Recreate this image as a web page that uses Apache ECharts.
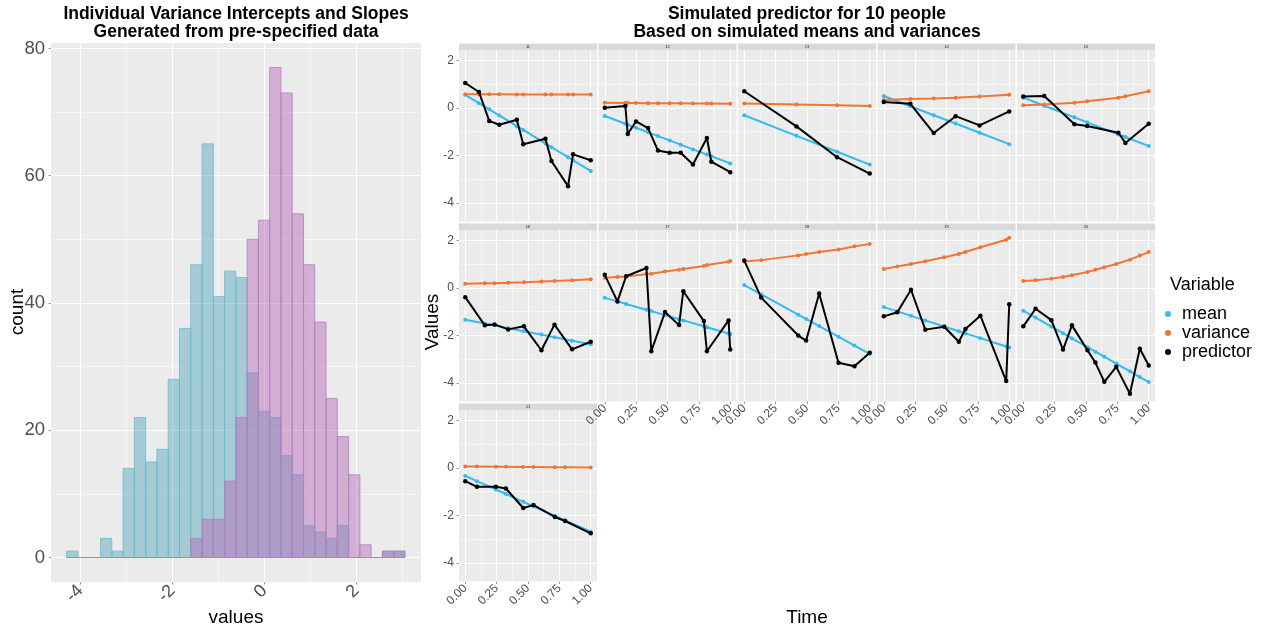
<!DOCTYPE html>
<html>
<head>
<meta charset="utf-8">
<script src="https://cdn.jsdelivr.net/npm/echarts@6/dist/echarts.min.js"></script>
<style>
  html, body { margin: 0; padding: 0; background: #ffffff; }
  #main { width: 1261px; height: 630px; }
</style>
</head>
<body>
<div id="main"></div>
<script>
  const FONT = '"Liberation Sans", Arial, Helvetica, sans-serif';

  // histogram (30 bins shared by both distributions)
  const binStart = -4.298;
  const binWidth = 0.2453;
  const interceptCounts = [1, 0, 0, 3, 1, 14, 22, 15, 17, 28, 36, 46, 65, 41, 45, 44, 29, 23, 22, 16, 13, 5, 4, 3, 5, 0, 0, 0, 1, 1];
  const slopeCounts = [0, 0, 0, 0, 0, 0, 0, 0, 0, 0, 0, 3, 6, 6, 12, 22, 50, 53, 77, 73, 54, 46, 37, 25, 19, 13, 2, 0, 1, 1];
  const histXTicks = [-4, -2, 0, 2];
  const histXMinor = [-3, -1, 1, 3];
  const histYTicks = [0, 20, 40, 60, 80];
  const histYMinor = [10, 30, 50, 70];

  // simulated people
  const panelLabels = ['11', '12', '13', '14', '15', '16', '17', '18', '19', '20', '21'];
  const times = [
    [0, 0.109, 0.191, 0.271, 0.411, 0.462, 0.639, 0.687, 0.819, 0.859, 1.0],
    [0, 0.164, 0.183, 0.249, 0.345, 0.424, 0.517, 0.605, 0.703, 0.814, 0.849, 1.0],
    [0, 0.416, 0.74, 1.0],
    [0, 0.212, 0.398, 0.573, 0.764, 1.0],
    [0, 0.167, 0.408, 0.509, 0.758, 0.814, 1.0],
    [0, 0.156, 0.233, 0.342, 0.467, 0.607, 0.711, 0.851, 1.0],
    [0, 0.101, 0.170, 0.332, 0.371, 0.480, 0.592, 0.626, 0.790, 0.814, 0.987, 1.0],
    [0, 0.135, 0.430, 0.493, 0.597, 0.751, 0.878, 1.0],
    [0, 0.108, 0.217, 0.331, 0.482, 0.598, 0.651, 0.770, 0.976, 1.0],
    [0, 0.098, 0.224, 0.317, 0.388, 0.512, 0.575, 0.646, 0.741, 0.850, 0.929, 1.0],
    [0, 0.093, 0.244, 0.324, 0.462, 0.544, 0.714, 0.796, 1.0]
  ];
  const means = [
    [0.55, 0.20, -0.06, -0.32, -0.77, -0.93, -1.50, -1.66, -2.08, -2.21, -2.66],
    [-0.34, -0.67, -0.71, -0.84, -1.03, -1.19, -1.37, -1.55, -1.75, -1.97, -2.04, -2.34],
    [-0.31, -1.18, -1.85, -2.39],
    [0.50, 0.07, -0.31, -0.66, -1.05, -1.53],
    [0.43, 0.09, -0.40, -0.61, -1.12, -1.23, -1.61],
    [-1.34, -1.50, -1.58, -1.70, -1.83, -1.97, -2.08, -2.23, -2.38],
    [-0.42, -0.57, -0.68, -0.92, -0.98, -1.15, -1.32, -1.37, -1.62, -1.66, -1.92, -1.94],
    [0.12, -0.27, -1.13, -1.31, -1.61, -2.06, -2.43, -2.78],
    [-0.81, -0.99, -1.18, -1.37, -1.63, -1.83, -1.92, -2.12, -2.47, -2.51],
    [-0.96, -1.25, -1.63, -1.91, -2.13, -2.50, -2.69, -2.90, -3.19, -3.52, -3.76, -3.97],
    [-0.34, -0.56, -0.91, -1.10, -1.43, -1.62, -2.02, -2.21, -2.69]
  ];
  const variances = [
    [0.57, 0.57, 0.57, 0.57, 0.56, 0.56, 0.56, 0.56, 0.56, 0.56, 0.56],
    [0.22, 0.21, 0.21, 0.21, 0.20, 0.20, 0.19, 0.19, 0.18, 0.18, 0.18, 0.17],
    [0.18, 0.14, 0.11, 0.08],
    [0.33, 0.37, 0.40, 0.43, 0.48, 0.55],
    [0.11, 0.14, 0.22, 0.28, 0.43, 0.49, 0.70],
    [0.17, 0.19, 0.20, 0.22, 0.24, 0.27, 0.29, 0.32, 0.36],
    [0.43, 0.46, 0.48, 0.58, 0.60, 0.69, 0.76, 0.80, 0.92, 0.96, 1.10, 1.13],
    [1.11, 1.17, 1.37, 1.43, 1.51, 1.62, 1.75, 1.85],
    [0.80, 0.90, 1.01, 1.12, 1.29, 1.43, 1.51, 1.71, 2.03, 2.11],
    [0.29, 0.32, 0.39, 0.46, 0.53, 0.67, 0.76, 0.87, 1.01, 1.19, 1.36, 1.51],
    [0.06, 0.06, 0.05, 0.05, 0.04, 0.04, 0.03, 0.03, 0.02]
  ];
  const predictors = [
    [1.05, 0.67, -0.55, -0.71, -0.50, -1.53, -1.30, -2.24, -3.30, -1.96, -2.21],
    [0.01, 0.08, -1.10, -0.57, -0.85, -1.80, -1.89, -1.89, -2.39, -1.27, -2.27, -2.71],
    [0.70, -0.78, -2.08, -2.77],
    [0.25, 0.17, -1.06, -0.35, -0.74, -0.15],
    [0.48, 0.50, -0.69, -0.76, -1.05, -1.48, -0.67],
    [-0.39, -1.58, -1.54, -1.75, -1.62, -2.63, -1.55, -2.59, -2.27],
    [0.55, -0.57, 0.49, 0.84, -2.67, -1.02, -1.57, -0.14, -1.40, -2.67, -1.37, -2.60],
    [1.15, -0.41, -2.01, -2.22, -0.24, -3.16, -3.30, -2.73],
    [-1.20, -1.03, -0.08, -1.76, -1.64, -2.27, -1.73, -1.17, -3.93, -0.69],
    [-1.62, -0.88, -1.36, -2.60, -1.58, -2.63, -3.15, -3.96, -3.33, -4.46, -2.57, -3.27],
    [-0.56, -0.80, -0.80, -0.87, -1.69, -1.57, -2.07, -2.24, -2.76]
  ];
  const timeTicks = [0, 0.25, 0.5, 0.75, 1];
  const timeMinor = [0.125, 0.375, 0.625, 0.875];
  const valueTicks = [-4, -2, 0, 2];
  const valueMinor = [-3, -1, 1];

  const varNames = ['mean', 'variance', 'predictor'];
  const varColors = ['#33BBEE', '#EE7733', '#000000'];

  const chart = echarts.init(document.getElementById('main'));

  const grids = [];
  const xAxes = [];
  const yAxes = [];
  const series = [];
  const graphics = [];

  // minor axis first, then the major one (carrying labels and ticks)
  function axisPair(gridIndex, position, min, max, major, minor, label) {
    const minorAxis = {
      type: 'value', gridIndex: gridIndex, position: position, offset: 0, min: min, max: max,
      axisLine: { show: false, onZero: false },
      axisTick: { show: false, customValues: minor },
      axisLabel: { show: false, customValues: minor },
      splitLine: { show: true, lineStyle: { color: '#FFFFFF', width: 0.5 } }
    };
    const majorAxis = {
      type: 'value', gridIndex: gridIndex, position: position, offset: 0, min: min, max: max,
      axisLine: { show: false, onZero: false },
      axisTick: { show: !!label, customValues: major, length: 2.5, lineStyle: { color: '#555555', width: 0.6 } },
      axisLabel: label
        ? Object.assign({ customValues: major, color: '#4D4D4D', fontFamily: FONT, margin: 6 }, label)
        : { show: false, customValues: major },
      splitLine: { show: true, lineStyle: { color: '#FFFFFF', width: 1.1 } }
    };
    return [minorAxis, majorAxis];
  }

  // ---- left: histogram ----
  grids.push({ left: 51, top: 43, width: 370, height: 539, show: true, backgroundColor: '#EBEBEB', borderWidth: 0, outerBoundsMode: 'none' });
  xAxes.push(...axisPair(0, 'bottom', -4.64, 3.41, histXTicks, histXMinor, { fontSize: 18, rotate: 45 }));
  yAxes.push(...axisPair(0, 'left', -3.85, 80.85, histYTicks, histYMinor, { fontSize: 18.5 }));

  function histSeries(name, counts, fill, stroke) {
    return {
      type: 'custom', name: name, xAxisIndex: 1, yAxisIndex: 1,
      silent: true, animation: false,
      encode: { x: [0, 1], y: 2 },
      data: counts.map(function (c, k) { return [binStart + k * binWidth, binStart + (k + 1) * binWidth, c]; }),
      renderItem: function (params, api) {
        const a = api.coord([api.value(0), 0]);
        const b = api.coord([api.value(1), api.value(2)]);
        return {
          type: 'rect',
          shape: { x: a[0], y: b[1], width: b[0] - a[0], height: a[1] - b[1] },
          style: { fill: fill, stroke: stroke, lineWidth: 0.8 }
        };
      }
    };
  }
  series.push(histSeries('intercepts', interceptCounts, 'rgba(82,162,182,0.45)', '#5FBFD8'));
  series.push(histSeries('slopes', slopeCounts, 'rgba(179,99,182,0.45)', '#B57DC4'));

  // ---- right: facets ----
  const colLeft = [459, 598.5, 738, 877.5, 1017];
  const rowTop = [50, 230, 410];
  const panelW = 138;
  const panelH = 171.5;

  times.forEach(function (t, i) {
    const row = Math.floor(i / 5);
    const col = i % 5;
    const showX = (row === 1 && col > 0) || row === 2;
    const showY = col === 0;
    const g = grids.length;
    grids.push({ left: colLeft[col], top: rowTop[row], width: panelW, height: panelH, show: true, backgroundColor: '#EBEBEB', borderWidth: 0, outerBoundsMode: 'none' });
    const xi = xAxes.length;
    const yi = yAxes.length;
    xAxes.push(...axisPair(g, 'bottom', -0.05, 1.05, timeTicks, timeMinor,
      showX ? { fontSize: 12, rotate: 45, margin: 5, formatter: function (v) { return v.toFixed(2); } } : null));
    yAxes.push(...axisPair(g, 'left', -4.79, 2.44, valueTicks, valueMinor, showY ? { fontSize: 12, margin: 5 } : null));

    [means[i], variances[i], predictors[i]].forEach(function (vals, s) {
      series.push({
        type: 'line', name: varNames[s],
        xAxisIndex: xi + 1, yAxisIndex: yi + 1,
        data: t.map(function (tt, j) { return [tt, vals[j]]; }),
        symbol: 'circle', symbolSize: s === 2 ? 4.5 : 4, showAllSymbol: true,
        lineStyle: { color: varColors[s], width: 2 },
        itemStyle: { color: varColors[s] },
        silent: true, animation: false, z: 2 + s
      });
    });

    // strip
    graphics.push({ type: 'rect', left: colLeft[col], top: rowTop[row] - 6.5, shape: { width: panelW, height: 6.5 }, style: { fill: '#D9D9D9' }, silent: true });
    graphics.push({ type: 'text', x: colLeft[col] + panelW / 2, y: rowTop[row] - 3.2, style: { text: panelLabels[i], fill: '#1A1A1A', align: 'center', verticalAlign: 'middle', font: '4px ' + FONT }, silent: true });
  });

  function txt(x, y, text, font, opts) {
    return {
      type: 'text', x: x, y: y, silent: true,
      style: Object.assign({ text: text, fill: '#000000', align: 'center', verticalAlign: 'middle', font: font + ' ' + FONT }, opts || {})
    };
  }

  graphics.push(txt(236, 14, 'Individual Variance Intercepts and Slopes', 'bold 17.5px'));
  graphics.push(txt(236, 32, 'Generated from pre-specified data', 'bold 17.5px'));
  graphics.push(txt(807, 14, 'Simulated predictor for 10 people', 'bold 17.5px'));
  graphics.push(txt(807, 32, 'Based on simulated means and variances', 'bold 17.5px'));
  graphics.push(Object.assign(txt(18, 312, 'count', '19px'), { rotation: Math.PI / 2 }));
  graphics.push(txt(236, 618, 'values', '19px'));
  graphics.push(Object.assign(txt(433, 322, 'Values', '19px'), { rotation: Math.PI / 2 }));
  graphics.push(txt(807, 618, 'Time', '19px'));
  graphics.push(txt(1170, 285, 'Variable', '18px', { align: 'left' }));

  chart.setOption({
    animation: false,
    grid: grids,
    xAxis: xAxes,
    yAxis: yAxes,
    legend: {
      data: varNames,
      orient: 'vertical',
      left: 1160,
      top: 300,
      icon: 'circle',
      itemWidth: 6,
      itemHeight: 6,
      itemGap: 1,
      selectedMode: false,
      textStyle: { fontSize: 18, lineHeight: 16.5, fontFamily: FONT, color: '#000000', padding: [0, 0, 0, 6] }
    },
    graphic: graphics,
    series: series
  });
</script>
</body>
</html>
